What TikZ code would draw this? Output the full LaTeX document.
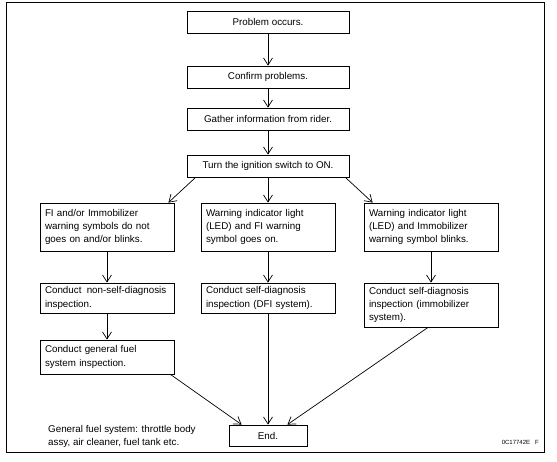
\documentclass[tikz,border=0pt]{standalone}
\usepackage{fontspec}
\setmainfont{Liberation Sans}
\usetikzlibrary{arrows.meta}
\begin{document}
\begin{tikzpicture}[x=1pt,y=-1pt,
  box/.style={draw=black, line width=0.8pt, inner sep=0pt, font=\fontsize{9.8}{13.2}\selectfont},
  cbox/.style={box, minimum width=162pt, minimum height=22pt},
  lbox/.style={box, minimum width=134pt, text width=124pt, align=left},
  arr/.style={-{Straight Barb[length=7pt,width=9pt]}, line width=0.7pt},
  note/.style={inner sep=0pt, font=\fontsize{9.8}{13.2}\selectfont, align=left}]
\useasboundingbox (0,0) rectangle (557,461);
\draw[line width=1pt] (6.5,2) rectangle (544,452.5);
% top column
\node[cbox] (p1) at (268,22) {Problem occurs.};
\node[cbox] (p2) at (268,77) {Confirm problems.};
\node[cbox] (p3) at (268,119) {Gather information from rider.};
\node[cbox] (p4) at (268,166) {Turn the ignition switch to ON.};
% middle row
\node[lbox, minimum height=48pt] (a1) at (107,227) {FI and/or Immobilizer\\warning symbols do not\\goes on and/or blinks.};
\node[lbox, minimum height=48pt] (b1) at (268,227) {Warning indicator light\\(LED) and FI warning\\symbol goes on.};
\node[lbox, minimum height=48pt] (c1) at (431,227) {Warning indicator light\\(LED) and Immobilizer\\warning symbol blinks.};
% second row
\node[lbox, minimum height=30pt] (a2) at (107,298) {Conduct\hspace{2pt} non-self-diagnosis\\inspection.};
\node[lbox, minimum height=30pt] (b2) at (268,298) {Conduct self-diagnosis\\inspection (DFI system).};
\node[lbox, minimum height=44pt] (c2) at (431,305) {Conduct self-diagnosis\\inspection (immobilizer\\system).};
% third row
\node[lbox, minimum height=34pt] (a3) at (107,357) {Conduct general fuel\\system inspection.};
% end
\node[box, minimum width=78pt, minimum height=21pt] (fin) at (268,435.5) {End.};
% notes
\node[note, anchor=west] (nt) at (48,436.5) {General fuel system: throttle body\\assy, air cleaner, fuel tank etc.};
\node[inner sep=0pt, anchor=east, font=\fontsize{6}{6}\selectfont] (code) at (539,442) {0C17742E\hspace{5pt}F};
% connectors
\draw[arr] (p1) -- (p2);
\draw[arr] (p2) -- (p3);
\draw[arr] (p3) -- (p4);
\draw[arr] ([xshift=9pt]p4.south west) -- ([xshift=-6pt]a1.north east);
\draw[arr] (p4) -- (b1);
\draw[arr] ([xshift=-4pt]p4.south east) -- ([xshift=9pt]c1.north west);
\draw[arr] (a1) -- (a2);
\draw[arr] (a2) -- (a3);
\draw[arr] (b1) -- (b2);
\draw[arr] (c1) -- (c2);
\draw[arr] ([xshift=-4pt]a3.south east) -- ([xshift=13pt]fin.north west);
\draw[arr] (b2) -- (fin);
\draw[arr] ([xshift=-3pt]c2.south) -- ([xshift=-20pt]fin.north east);
\end{tikzpicture}
\end{document}
